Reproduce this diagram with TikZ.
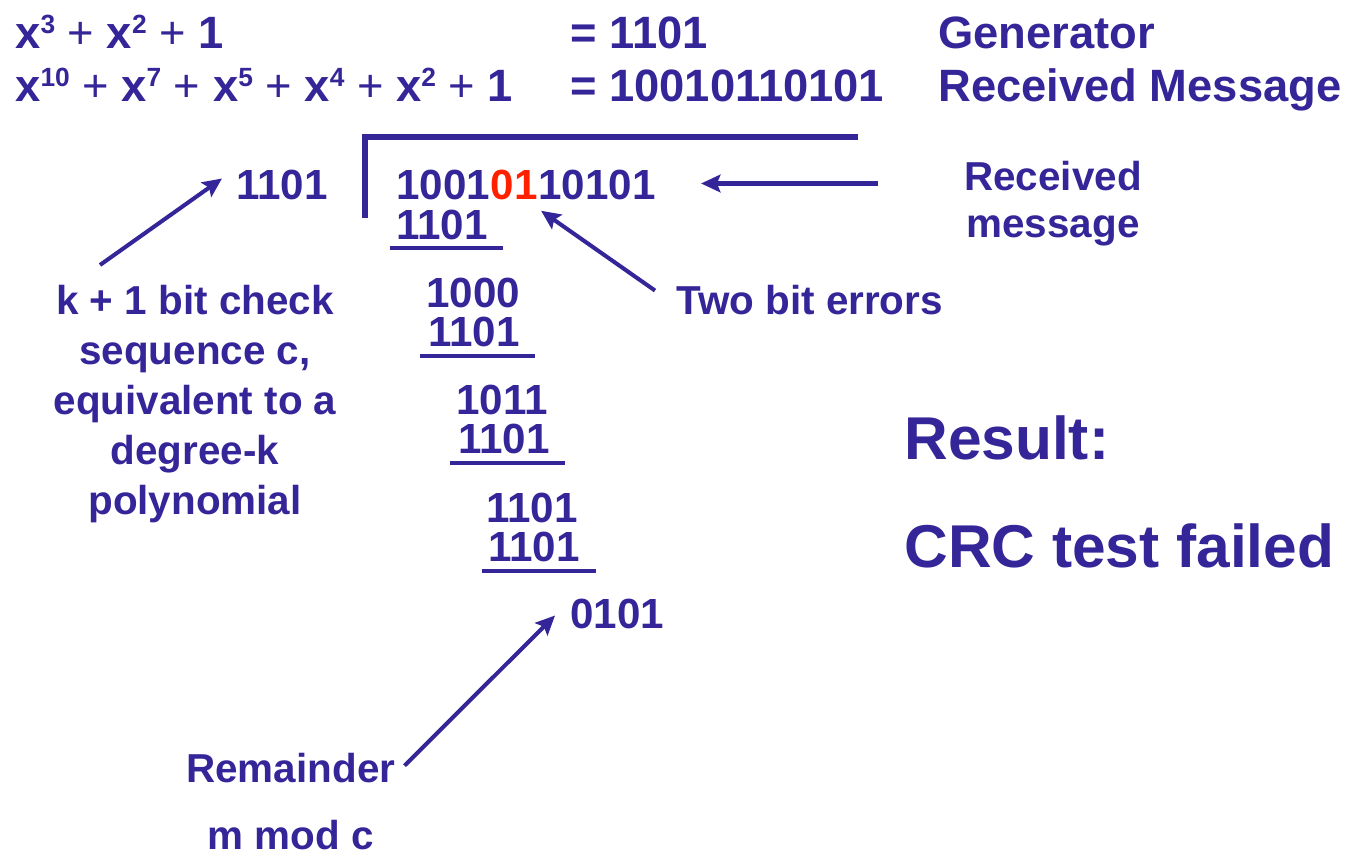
\documentclass[tikz,border=0pt]{standalone}
\usepackage{fontspec}
\setmainfont{Liberation Sans}
\usepackage{xcolor}
\usepackage{tikz}
\usetikzlibrary{arrows.meta, positioning, calc}
\definecolor{slideblue}{RGB}{52,37,152}
\definecolor{errred}{RGB}{255,32,0}
\newcommand{\supx}[1]{\raisebox{0.33em}{\fontsize{15}{15}\selectfont #1}}
\newcommand{\plus}{{\mdseries +}}
\tikzset{
  eqtext/.style={inner sep=0pt, anchor=base west, text=slideblue,
    font=\bfseries\fontsize{25.8}{31}\selectfont},
  digits/.style={inner sep=0pt, anchor=base west, text=slideblue,
    font=\bfseries\fontsize{24}{29}\selectfont},
  note/.style={inner sep=0pt, text=slideblue,
    font=\bfseries\fontsize{23}{28.5}\selectfont},
  result/.style={inner sep=0pt, anchor=base west, text=slideblue,
    font=\bfseries\fontsize{34.4}{41}\selectfont},
  arrow/.style={-{Stealth[length=11pt, width=10pt, inset=2pt]}, line width=2.3pt, color=slideblue},
  line/.style={line width=2.3pt, color=slideblue}
}

\begin{document}
\begin{tikzpicture}[x=0.02cm, y=-0.02cm]
  \useasboundingbox (0,0) rectangle (1351,856);

  % polynomials
  \node[eqtext] (gpoly) at (15,48) {x\supx{3} \plus{} x\supx{2} \plus{} 1};
  \node[eqtext] (mpoly) at (15,101) {x\supx{10} \plus{} x\supx{7} \plus{} x\supx{5} \plus{} x\supx{4} \plus{} x\supx{2} \plus{} 1};
  \node[eqtext] (gbits) at (570,48) {= 1101};
  \node[eqtext] (mbits) at (570,101) {= 10010110101};
  \node[eqtext] (gname) at (938,48) {Generator};
  \node[eqtext] (mname) at (938,101) {Received Message};

  % division bracket
  \draw[line, line width=3.2pt] (365,218) -- (365,137) -- (858,137);

  \node[digits] (divisor) at (236,199) {1101};
  \node[digits] (dvA) at (396,199) {1001};
  \node[digits, text=errred] (dvB) at (dvA.base east) {01};
  \node[digits] (dvC) at (dvB.base east) {10101};

  % long division steps
  \node[digits] (sub1) at (396,239) {1101};
  \draw[line] (390,248) -- (503,248);
  \node[digits] (rest1) at (426,307) {1000};
  \node[digits] (sub2) at (428,346) {1101};
  \draw[line] (420,356) -- (535,356);
  \node[digits] (rest2) at (456,414) {1011};
  \node[digits] (sub3) at (458,453) {1101};
  \draw[line] (450,463) -- (565,463);
  \node[digits] (rest3) at (486,522) {1101};
  \node[digits] (sub4) at (488,561) {1101};
  \draw[line] (482,571) -- (596,571);
  \node[digits] (remd) at (570,628) {0101};

  % notes
  \node[note, anchor=base] (recvA) at (1053,190) {Received};
  \node[note, anchor=base] (recvB) at (1053,237) {message};
  \node[note, anchor=base west] (twobit) at (676,314) {Two bit errors};
  \node[note, align=center, anchor=north] (ktext) at (195,285)
    {k + 1 bit check\\sequence c,\\equivalent to a\\degree-k\\polynomial};
  \node[note, anchor=base west] (rem) at (186,782) {Remainder};
  \node[note, anchor=base west] (mmod) at (207,849) {m mod c};

  \node[result] (res) at (904,459) {Result:};
  \node[result] (crc) at (904,567) {CRC test failed};

  % arrows
  \coordinate (kstart) at (100,265);
  \draw[arrow] (kstart) -- ($(divisor.west)+(-14,-6)$);
  \draw[arrow] ($(recvA.west |- dvC.east)+(-86,-1)$) -- ($(dvC.east)+(45,-1)$);
  \draw[arrow] ($(twobit.west)+(-21,-9)$) -- ($(dvB.south east)+(3,11)$);
  \draw[arrow] ($(rem.east)+(9,-2)$) -- ($(remd.west)+(-15,2)$);
\end{tikzpicture}
\end{document}
